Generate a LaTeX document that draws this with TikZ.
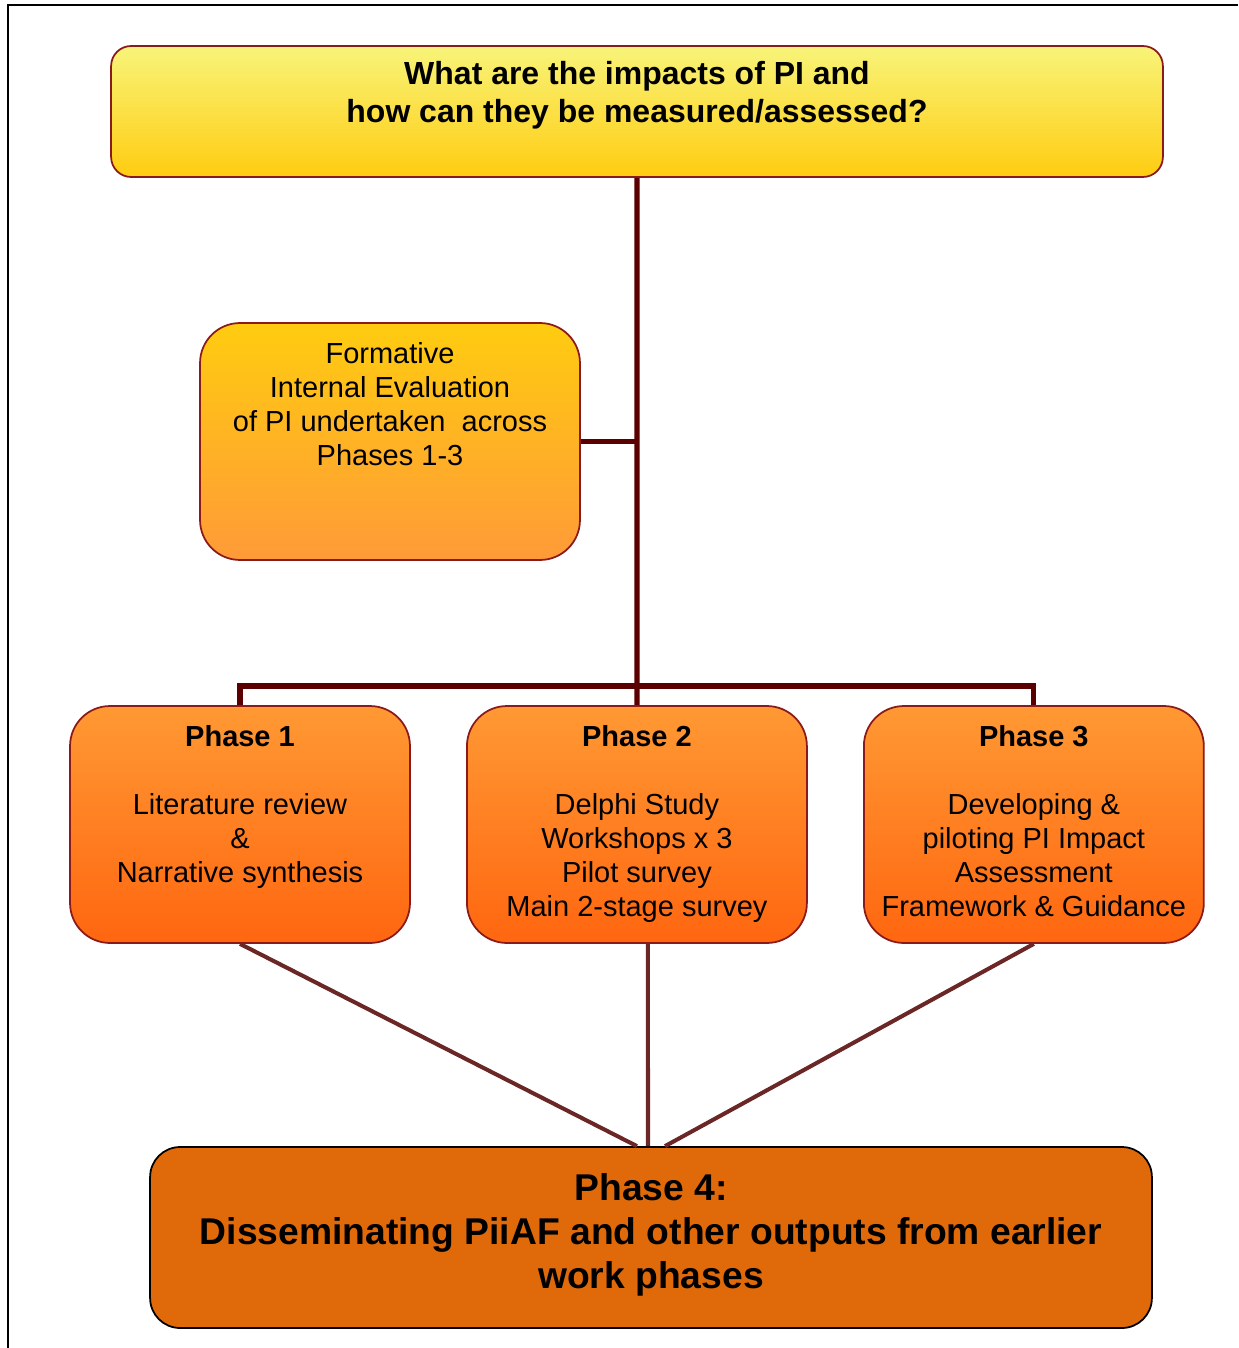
\documentclass[tikz,border=0pt]{standalone}
\usepackage{fontspec}
\setmainfont{Liberation Sans}
\usetikzlibrary{positioning}

\definecolor{boxedge}{HTML}{8B1A1A}
\definecolor{trunkred}{HTML}{5A0000}
\definecolor{spokered}{HTML}{6B2626}
\definecolor{qtop}{HTML}{F8F47A}
\definecolor{qbot}{HTML}{FFCC10}
\definecolor{ftop}{HTML}{FFCC10}
\definecolor{fbot}{HTML}{FF9A38}
\definecolor{ptop}{HTML}{FF9933}
\definecolor{pbot}{HTML}{FF6610}
\definecolor{dissem}{HTML}{E06A0A}

\begin{document}
\begin{tikzpicture}[
    x=0.02cm, y=-0.02cm,
    node distance=7.94cm,
    on grid,
    every node/.style={inner sep=0pt},
    questionbox/.style={draw=boxedge, line width=1pt, rounded corners=0.4cm,
        top color=qtop, bottom color=qbot, minimum width=21.04cm, minimum height=2.62cm},
    formbox/.style={draw=boxedge, line width=1pt, rounded corners=0.8cm,
        top color=ftop, bottom color=fbot, minimum width=7.6cm, minimum height=4.74cm},
    phasebox/.style={draw=boxedge, line width=1pt, rounded corners=0.8cm,
        top color=ptop, bottom color=pbot, minimum width=6.8cm, minimum height=4.74cm},
    dissembox/.style={draw=black, line width=1pt, rounded corners=0.6cm,
        fill=dissem, minimum width=20.04cm, minimum height=3.62cm},
    bigtext/.style={align=center, anchor=north, font=\fontsize{18.2}{21.6}\selectfont\bfseries},
    bodytext/.style={align=center, anchor=north, font=\fontsize{16.5}{19.3}\selectfont},
    hugetext/.style={align=center, anchor=north, font=\fontsize{21.2}{25}\selectfont\bfseries},
    trunk/.style={draw=trunkred, line width=3pt},
    spoke/.style={draw=spokered, line width=2.3pt}
]
\useasboundingbox (0,0) rectangle (1238,1348);

% frame
\draw[line width=1.2pt] (8,1348) -- (8,5) -- (1238,5);

% boxes
\node[questionbox] (question) at (637,111.5) {};
\node[formbox] (formative) at (390,441.5) {};
\node[phasebox] (phase1) at (240,824.5) {};
\node[phasebox, right=of phase1] (phase2) {};
\node[phasebox, right=of phase2] (phase3) {};
\node[dissembox] (phase4) at (651,1237.5) {};

% texts
\node[bigtext, below=0.31cm of question.north] (questiontxt)
    {What are the impacts of PI and\\how can they be measured/assessed?};
\node[bodytext, below=0.40cm of formative.north] (formativetxt)
    {Formative\\Internal Evaluation\\of PI undertaken~ across\\Phases 1-3};
\node[bodytext, below=0.40cm of phase1.north] (phase1txt)
    {\textbf{Phase 1}\\[19.3pt]Literature review\\\&\\Narrative synthesis};
\node[bodytext, below=0.40cm of phase2.north] (phase2txt)
    {\textbf{Phase 2}\\[19.3pt]Delphi Study\\Workshops x 3\\Pilot survey\\Main 2-stage survey};
\node[bodytext, below=0.40cm of phase3.north] (phase3txt)
    {\textbf{Phase 3}\\[19.3pt]Developing \&\\piloting PI Impact\\Assessment\\Framework \& Guidance};
\node[hugetext, below=0.54cm of phase4.north] (phase4txt)
    {Phase 4:\\Disseminating PiiAF and other outputs from earlier\\work phases};

% tree above the phases
\coordinate (bus) at (637,686);
\path[trunk] (question.south) -- (phase2.north);
\path[trunk] (formative.east) -- (formative.east -| question.south);
\path[trunk] (phase1.north) |- (bus) -| (phase3.north);

% lines down to phase 4
\path[spoke] (phase1.south) -- ([xshift=-0.28cm]phase4.north);
\path[spoke] ([xshift=0.22cm]phase2.south) -- ([xshift=-0.06cm]phase4.north);
\path[spoke] (phase3.south) -- ([xshift=0.28cm]phase4.north);

\end{tikzpicture}
\end{document}
